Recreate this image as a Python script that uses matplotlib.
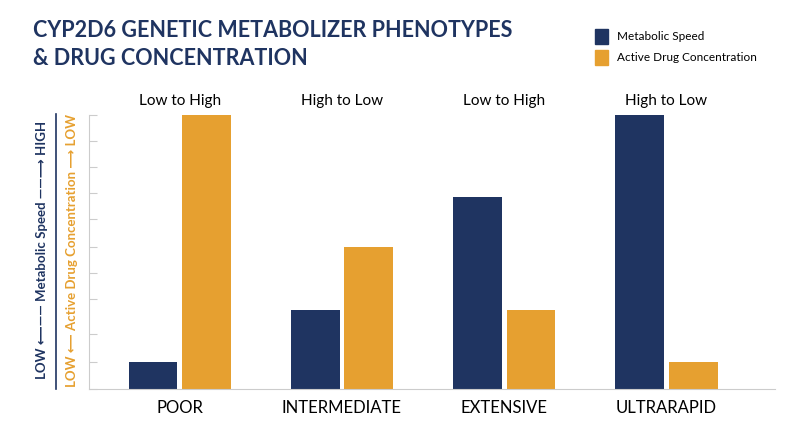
import matplotlib
matplotlib.use("Agg")
import matplotlib.pyplot as plt
import numpy as np
from matplotlib.patches import Patch

categories = ["POOR", "INTERMEDIATE", "EXTENSIVE", "ULTRARAPID"]
metabolic_speed = [1.0, 2.9, 7.0, 10.0]
drug_concentration = [10.0, 5.2, 2.9, 1.0]
trend_labels = ["Low to High", "High to Low", "Low to High", "High to Low"]
tick_values = [0, 1.0, 2.0, 3.3, 4.25, 5.2, 6.2, 7.15, 8.1, 9.05, 10]

NAVY = "#1f3461"
ORANGE = "#e6a030"

fig = plt.figure(figsize=(8, 4.47), dpi=100)
ax = fig.add_axes([0.111, 0.130, 0.858, 0.612])
x = np.arange(len(categories))
w = 0.30
ax.bar(x - 0.165, metabolic_speed, w, color=NAVY)
ax.bar(x + 0.165, drug_concentration, w, color=ORANGE)
ax.set_xlim(-0.56, 3.67)
ax.set_ylim(0, 10)
ax.set_yticks(tick_values)
ax.tick_params(axis="y", length=6, color="#cccccc", labelleft=False, direction="in")
ax.set_xticks(x)
ax.set_xticklabels(categories, fontsize=12, family="Lato")
ax.tick_params(axis="x", length=0, pad=8)
for s in ["top", "right"]:
    ax.spines[s].set_visible(False)
ax.spines["left"].set_color("#cccccc")
ax.spines["bottom"].set_color("#cccccc")
for xi, t in zip(x, trend_labels):
    ax.text(xi, 10.25, t, ha="center", va="bottom", fontsize=11, family="Lato")

fig.text(0.041, 0.955, "CYP2D6 GENETIC METABOLIZER PHENOTYPES\n& DRUG CONCENTRATION",
         ha="left", va="top", fontsize=15.5, fontweight="bold", color=NAVY,
         family="Lato", linespacing=1.4)

fig.text(0.052, 0.44, "LOW \u27f5\u2014\u2014 Metabolic Speed \u2014\u2014\u27f6 HIGH", rotation=90,
         ha="center", va="center", fontsize=9.5, fontweight="bold", color=NAVY, family=["Lato", "DejaVu Sans"])
fig.lines.append(plt.Line2D([0.07, 0.07], [0.13, 0.745], transform=fig.transFigure, color=NAVY, lw=1.2))
fig.text(0.09, 0.44, "LOW \u27f5 Active Drug Concentration \u27f6 LOW", rotation=90,
         ha="center", va="center", fontsize=9.5, fontweight="bold", color=ORANGE, family=["Lato", "DejaVu Sans"])

handles = [Patch(color=NAVY, label="Metabolic Speed"), Patch(color=ORANGE, label="Active Drug Concentration")]
fig.legend(handles=handles, loc="upper left", bbox_to_anchor=(0.73, 0.96), frameon=False,
           handlelength=1.1, handleheight=1.6, labelspacing=0.5,
           prop={"family": "Lato", "size": 8.5})

fig.savefig("out.png", dpi=100)
